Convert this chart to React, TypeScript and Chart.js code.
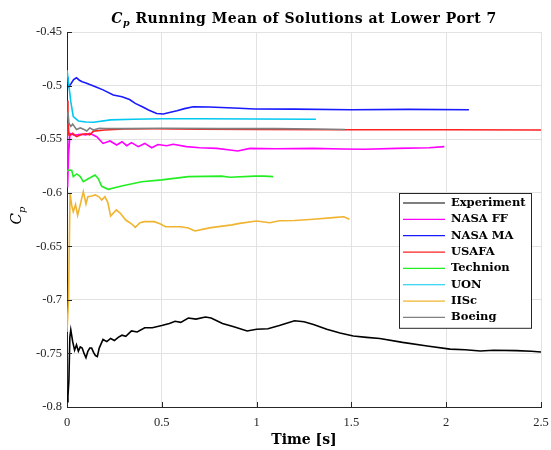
import { useEffect, useRef } from "react";
import { Chart, registerables } from "chart.js";

Chart.register(...registerables);

const seriesNames = ["Experiment", "NASA FF", "NASA MA", "USAFA", "Technion", "UON", "IISc", "Boeing"];
const seriesColors = ["#000000", "#ff00ff", "#1a1aff", "#ff2020", "#22ee22", "#00c8f0", "#f0b430", "#808080"];

const xTicks = [0, 0.5, 1, 1.5, 2, 2.5];
const yTicks = [-0.8, -0.75, -0.7, -0.65, -0.6, -0.55, -0.5, -0.45];

const experimentTime = [0, 0.005, 0.01, 0.015, 0.02, 0.03, 0.04, 0.05, 0.06, 0.07, 0.08, 0.09, 0.1, 0.11, 0.12, 0.13, 0.14, 0.15, 0.16, 0.17, 0.19, 0.21, 0.23, 0.25, 0.27, 0.29, 0.31, 0.34, 0.37, 0.41, 0.45, 0.5, 0.54, 0.57, 0.6, 0.64, 0.68, 0.73, 0.76, 0.82, 0.88, 0.95, 1.0, 1.06, 1.12, 1.2, 1.25, 1.3, 1.37, 1.44, 1.51, 1.58, 1.65, 1.77, 1.9, 2.02, 2.1, 2.18, 2.25, 2.37, 2.45, 2.5];
const experimentCp = [-0.795, -0.79, -0.775, -0.735, -0.728, -0.739, -0.747, -0.742, -0.748, -0.744, -0.745, -0.75, -0.754, -0.748, -0.745, -0.745, -0.749, -0.752, -0.753, -0.745, -0.737, -0.739, -0.736, -0.738, -0.735, -0.733, -0.734, -0.729, -0.73, -0.726, -0.726, -0.724, -0.722, -0.72, -0.721, -0.717, -0.718, -0.716, -0.717, -0.722, -0.725, -0.729, -0.7275, -0.727, -0.724, -0.7195, -0.7205, -0.723, -0.7275, -0.731, -0.7338, -0.735, -0.736, -0.7397, -0.743, -0.746, -0.7465, -0.7478, -0.747, -0.7474, -0.748, -0.7487];

const nasaFfTime = [0, 0.003, 0.008, 0.016, 0.04, 0.07, 0.1, 0.12, 0.157, 0.19, 0.227, 0.262, 0.29, 0.315, 0.34, 0.376, 0.41, 0.447, 0.48, 0.526, 0.56, 0.63, 0.7, 0.79, 0.86, 0.9, 0.965, 1.1, 1.3, 1.45, 1.57, 1.74, 1.91, 1.99];
const nasaFfCp = [-0.535, -0.595, -0.565, -0.5446, -0.5465, -0.5455, -0.546, -0.5446, -0.5477, -0.554, -0.5517, -0.5555, -0.5524, -0.5561, -0.5533, -0.557, -0.554, -0.558, -0.555, -0.5561, -0.5548, -0.557, -0.558, -0.5586, -0.5601, -0.561, -0.5586, -0.559, -0.5586, -0.5592, -0.5595, -0.5586, -0.558, -0.557];

const nasaMaTime = [0, 0.005, 0.01, 0.02, 0.035, 0.05, 0.065, 0.08, 0.1, 0.12, 0.15, 0.19, 0.244, 0.29, 0.33, 0.36, 0.4, 0.43, 0.473, 0.508, 0.54, 0.58, 0.62, 0.666, 0.75, 0.91, 0.99, 1.2, 1.5, 1.8, 2.12];
const nasaMaCp = [-0.492, -0.497, -0.501, -0.4985, -0.4945, -0.4927, -0.495, -0.4964, -0.4975, -0.499, -0.501, -0.504, -0.5088, -0.5104, -0.513, -0.5166, -0.52, -0.5228, -0.526, -0.5265, -0.5252, -0.5235, -0.5215, -0.5197, -0.52, -0.5212, -0.5219, -0.522, -0.5225, -0.5222, -0.5225];

const usafaTime = [0, 0.005, 0.01, 0.02, 0.03, 0.05, 0.08, 0.1, 0.12, 0.14, 0.2, 0.3, 0.46, 0.7, 1.0, 1.5, 2.0, 2.5];
const usafaCp = [-0.514, -0.53, -0.546, -0.546, -0.5446, -0.5477, -0.5455, -0.545, -0.546, -0.5425, -0.5415, -0.5405, -0.5403, -0.5408, -0.541, -0.5413, -0.5413, -0.5415];

const technionTime = [0, 0.007, 0.025, 0.033, 0.051, 0.07, 0.086, 0.112, 0.148, 0.165, 0.183, 0.218, 0.288, 0.394, 0.5, 0.64, 0.816, 0.86, 0.99, 1.04, 1.087];
const technionCp = [-0.58, -0.5788, -0.579, -0.585, -0.5825, -0.585, -0.5897, -0.587, -0.5835, -0.587, -0.594, -0.5968, -0.5937, -0.5897, -0.588, -0.585, -0.5845, -0.5855, -0.5845, -0.5845, -0.585];

const uonTime = [0, 0.01, 0.02, 0.033, 0.06, 0.1, 0.14, 0.23, 0.35, 0.5, 0.7, 1.0, 1.313];
const uonCp = [-0.4855, -0.5, -0.515, -0.529, -0.533, -0.534, -0.5343, -0.532, -0.5315, -0.531, -0.531, -0.5312, -0.5315];

const iiscTime = [0, 0.008, 0.016, 0.025, 0.033, 0.045, 0.056, 0.068, 0.086, 0.1, 0.11, 0.13, 0.15, 0.17, 0.183, 0.2, 0.215, 0.23, 0.26, 0.28, 0.31, 0.34, 0.36, 0.385, 0.41, 0.46, 0.49, 0.52, 0.6, 0.64, 0.675, 0.72, 0.76, 0.87, 0.91, 1.0, 1.07, 1.12, 1.2, 1.3, 1.42, 1.46, 1.49];
const iiscCp = [-0.73, -0.7, -0.6005, -0.612, -0.6177, -0.611, -0.621, -0.6125, -0.599, -0.6105, -0.6037, -0.603, -0.602, -0.604, -0.6068, -0.6037, -0.609, -0.6217, -0.616, -0.619, -0.6255, -0.629, -0.6323, -0.628, -0.627, -0.627, -0.629, -0.6317, -0.6317, -0.633, -0.6357, -0.634, -0.6326, -0.63, -0.6286, -0.6264, -0.628, -0.6261, -0.626, -0.6248, -0.623, -0.6225, -0.6248];

const boeingTime = [0, 0.005, 0.01, 0.02, 0.03, 0.05, 0.07, 0.09, 0.104, 0.12, 0.14, 0.17, 0.2, 0.3, 0.5, 0.8, 1.1, 1.3, 1.466];
const boeingCp = [-0.528, -0.5244, -0.535, -0.538, -0.536, -0.541, -0.5395, -0.541, -0.5424, -0.5395, -0.5415, -0.5399, -0.54, -0.5402, -0.5399, -0.5402, -0.5402, -0.5405, -0.541];

const seriesTimes = [experimentTime, nasaFfTime, nasaMaTime, usafaTime, technionTime, uonTime, iiscTime, boeingTime];
const seriesValues = [experimentCp, nasaFfCp, nasaMaCp, usafaCp, technionCp, uonCp, iiscCp, boeingCp];

const fmt = (v: number) => String(Number(v.toFixed(2)));

const decorPlugin = {
  id: "decor",
  afterDraw(chart: any) {
    const { ctx, chartArea } = chart;
    const xs = chart.scales.x;
    const ys = chart.scales.y;
    const cx = (chartArea.left + chartArea.right) / 2;
    ctx.save();
    // inward ticks
    ctx.strokeStyle = "#262626";
    ctx.lineWidth = 1;
    ctx.beginPath();
    for (const v of xTicks) {
      const px = Math.round(xs.getPixelForValue(v)) + 0.5;
      ctx.moveTo(px, chartArea.bottom);
      ctx.lineTo(px, chartArea.bottom - 5);
    }
    for (const v of yTicks) {
      const py = Math.round(ys.getPixelForValue(v)) + 0.5;
      ctx.moveTo(chartArea.left, py);
      ctx.lineTo(chartArea.left + 5, py);
    }
    ctx.stroke();

    // title
    ctx.fillStyle = "#000";
    ctx.textBaseline = "alphabetic";
    ctx.textAlign = "left";
    (ctx as any).letterSpacing = "0.5px";
    const fC = "bold italic 14px 'DejaVu Serif'";
    const fp = "bold italic 9.5px 'DejaVu Serif'";
    const fr = "bold 14px 'DejaVu Serif'";
    const rest = " Running Mean of Solutions at Lower Port 7";
    ctx.font = fC;
    const wC = ctx.measureText("C").width;
    ctx.font = fp;
    const wp = ctx.measureText("p").width;
    ctx.font = fr;
    const wr = ctx.measureText(rest).width;
    let tx = cx - (wC + wp + wr) / 2;
    const ty = 23;
    ctx.font = fC;
    ctx.fillText("C", tx, ty);
    tx += wC;
    ctx.font = fp;
    ctx.fillText("p", tx, ty + 3);
    tx += wp;
    ctx.font = fr;
    ctx.fillText(rest, tx, ty);
    (ctx as any).letterSpacing = "0px";

    // x title
    ctx.font = "bold 14px 'DejaVu Serif'";
    ctx.textAlign = "center";
    ctx.fillText("Time [s]", cx, 444);

    // y title
    ctx.save();
    ctx.translate(21, (chartArea.top + chartArea.bottom) / 2 - 4);
    ctx.rotate(-Math.PI / 2);
    ctx.textAlign = "left";
    ctx.font = "italic 15px 'DejaVu Serif'";
    const yC = ctx.measureText("C").width;
    ctx.font = "italic 10px 'DejaVu Serif'";
    const yp = ctx.measureText("p").width;
    let yx = -(yC + yp) / 2;
    ctx.font = "italic 15px 'DejaVu Serif'";
    ctx.fillText("C", yx, 0);
    yx += yC;
    ctx.font = "italic 10px 'DejaVu Serif'";
    ctx.fillText("p", yx, 4);
    ctx.restore();

    // legend
    const boxW = 132;
    const rowH = 16.35;
    const boxH = rowH * seriesNames.length + 4;
    const bx = chartArea.right - 10 - boxW;
    const by = chartArea.top + 161;
    ctx.fillStyle = "#ffffff";
    ctx.fillRect(bx, by, boxW, boxH);
    ctx.strokeStyle = "#262626";
    ctx.lineWidth = 1;
    ctx.strokeRect(Math.round(bx) + 0.5, Math.round(by) + 0.5, boxW, boxH);
    ctx.font = "bold 11.5px 'DejaVu Serif'";
    ctx.textBaseline = "middle";
    ctx.textAlign = "left";
    seriesNames.forEach((name, i) => {
      const ry = by + 10 + i * rowH;
      ctx.strokeStyle = seriesColors[i];
      ctx.lineWidth = 1.2;
      ctx.beginPath();
      ctx.moveTo(bx + 4, ry);
      ctx.lineTo(bx + 46, ry);
      ctx.stroke();
      ctx.fillStyle = "#000";
      ctx.fillText(name, bx + 52, ry);
    });
    ctx.restore();
  },
};

export default function App() {
  const ref = useRef<HTMLCanvasElement | null>(null);
  useEffect(() => {
    if (!ref.current) return;
    const datasets = seriesNames.map((name, i) => ({
      label: name,
      data: seriesTimes[i].map((t, j) => ({ x: t, y: seriesValues[i][j] })),
      borderColor: seriesColors[i],
      backgroundColor: seriesColors[i],
      borderWidth: 1.6,
      pointRadius: 0,
      tension: 0,
      fill: false,
      order: seriesNames.length - i,
    }));
    const tickFont = { family: "'Liberation Serif'", size: 12.5 };
    const chart = new Chart(ref.current, {
      type: "line",
      data: { datasets },
      options: {
        animation: false,
        responsive: false,
        devicePixelRatio: 1,
        layout: { padding: { top: 32, right: 10, left: 0, bottom: 0 } },
        plugins: { legend: { display: false }, title: { display: false }, tooltip: { enabled: false } },
        scales: {
          x: {
            type: "linear",
            min: 0,
            max: 2.5,
            afterBuildTicks: (s: any) => {
              s.ticks = xTicks.map((v) => ({ value: v }));
            },
            afterFit: (s: any) => {
              s.height = 43;
              s.paddingLeft = 0;
              s.paddingRight = 0;
            },
            grid: { color: "#e2e2e2", drawTicks: false, lineWidth: 1 },
            border: { color: "#262626", width: 1 },
            ticks: { padding: 8, font: tickFont, color: "#262626", maxRotation: 0, autoSkip: false, callback: (v: any) => fmt(Number(v)) },
          },
          y: {
            type: "linear",
            min: -0.8,
            max: -0.45,
            afterBuildTicks: (s: any) => {
              s.ticks = yTicks.map((v) => ({ value: v }));
            },
            afterFit: (s: any) => {
              s.width = 67;
              s.paddingTop = 0;
              s.paddingBottom = 0;
            },
            grid: { color: "#e2e2e2", drawTicks: false, lineWidth: 1 },
            border: { color: "#262626", width: 1 },
            ticks: { padding: 5, font: tickFont, color: "#262626", autoSkip: false, callback: (v: any) => fmt(Number(v)) },
          },
        },
      } as any,
      plugins: [decorPlugin],
    });
    return () => chart.destroy();
  }, []);
  return (
    <div style={{ position: "absolute", left: 0, top: 0, width: 551, height: 450, background: "#fff" }}>
      <canvas ref={ref} width={551} height={450} style={{ display: "block" }} />
    </div>
  );
}
